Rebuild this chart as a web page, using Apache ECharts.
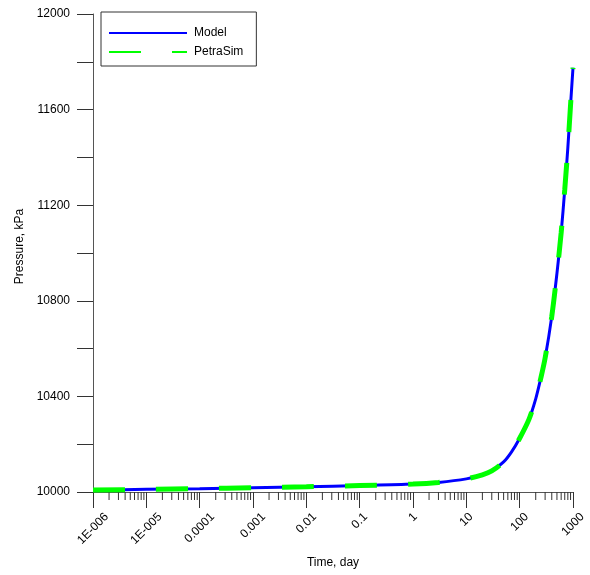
<!DOCTYPE html>
<html>
<head>
<meta charset="utf-8">
<script src="https://cdn.jsdelivr.net/npm/echarts@6/dist/echarts.min.js"></script>
<style>
  html, body { margin: 0; padding: 0; background: #fff; }
  #chart { width: 590px; height: 575px; }
</style>
</head>
<body>
<div id="chart"></div>
<script>
// Pressure build-up vs. time (log time axis)
const timeDays = [1e-6, 1e-5, 1e-4, 1e-3, 0.01, 0.1, 1, 3, 10, 20, 30, 50, 70, 100, 150, 200, 250, 300, 400, 500, 600, 700, 800, 900, 1000];
const modelPressure = [10008, 10011, 10014, 10018, 10022, 10027, 10033, 10040, 10055, 10072, 10088, 10126, 10167, 10225, 10305, 10390, 10478, 10560, 10735, 10915, 11085, 11265, 11440, 11620, 11775];
const petraSimPressure = [10008, 10011, 10014, 10018, 10022, 10027, 10033, 10040, 10055, 10072, 10088, 10126, 10167, 10225, 10305, 10390, 10478, 10560, 10735, 10915, 11085, 11265, 11440, 11620, 11775];

const xTickLabels = ['1E-006', '1E-005', '0.0001', '0.001', '0.01', '0.1', '1', '10', '100', '1000'];
const seriesNames = ['Model', 'PetraSim'];

const FONT = '"Liberation Sans", Arial, sans-serif';
const Y_MIN = 10000, Y_MAX = 12000;

// Minor log ticks: 2..9 within each decade
const minorTickTimes = [];
for (let k = -6; k < 3; k++) {
  for (let m = 2; m <= 9; m++) minorTickTimes.push(m * Math.pow(10, k));
}

// Measure label widths so rotated labels sit centred under their ticks
const ctx = document.createElement('canvas').getContext('2d');
ctx.font = '12px ' + FONT;
const rich = {};
xTickLabels.forEach((s, i) => {
  const w = ctx.measureText(s).width;
  rich['t' + i] = {
    fontSize: 12, fontFamily: FONT, color: '#000',
    padding: [w / 2, w / 2, 0, 0]
  };
});

const chart = echarts.init(document.getElementById('chart'), null, { renderer: 'canvas' });

chart.setOption({
  backgroundColor: '#fff',
  animation: false,
  grid: { left: 93, right: 17, top: 14, bottom: 83, containLabel: false },
  legend: {
    data: seriesNames,
    orient: 'vertical',
    left: 101, top: 12,
    padding: [15, 13, 8, 7],
    itemGap: 7,
    itemWidth: 78, itemHeight: 14,
    borderColor: '#333', borderWidth: 1,
    itemStyle: { opacity: 0 },
    textStyle: { fontSize: 12, fontFamily: FONT, color: '#000', padding: [0, 0, 0, 2] }
  },
  xAxis: {
    type: 'log', logBase: 10,
    min: 1e-6, max: 1000, interval: 1,
    name: 'Time, day', nameLocation: 'middle', nameGap: 65,
    nameTextStyle: { fontSize: 12, fontFamily: FONT, color: '#000' },
    axisLine: { show: true, lineStyle: { color: '#555', width: 1 } },
    axisTick: { show: true, inside: false, length: 16, lineStyle: { color: '#333', width: 1 } },
    minorTick: { show: false },
    splitLine: { show: false },
    axisLabel: {
      rotate: 45, align: 'center', verticalAlign: 'middle', margin: 23,
      fontSize: 12, fontFamily: FONT, color: '#000',
      formatter: v => {
        const i = Math.round(Math.log10(v)) + 6;
        return '{t' + i + '|' + xTickLabels[i] + '}';
      },
      rich: rich
    }
  },
  yAxis: {
    type: 'value',
    min: Y_MIN, max: Y_MAX, interval: 200,
    name: 'Pressure, kPa', nameLocation: 'middle', nameGap: 67,
    nameTextStyle: { fontSize: 12, fontFamily: FONT, color: '#000', padding: [0, 0, 0, 13] },
    axisLine: { show: true, lineStyle: { color: '#555', width: 1 } },
    axisTick: { show: true, inside: false, length: 16, lineStyle: { color: '#333', width: 1 } },
    splitLine: { show: false },
    axisLabel: {
      margin: 23, fontSize: 12, fontFamily: FONT, color: '#000',
      formatter: v => (v % 400 === 0 ? String(v) : '')
    }
  },
  series: [
    {
      type: 'custom',
      silent: true,
      clip: false,
      data: minorTickTimes.map(t => [t, Y_MIN]),
      renderItem: (params, api) => {
        const p = api.coord([api.value(0), api.value(1)]);
        return {
          type: 'line',
          shape: { x1: p[0], y1: p[1], x2: p[0], y2: p[1] + 8 },
          style: { stroke: '#333', lineWidth: 1 }
        };
      },
      z: 1
    },
    {
      name: seriesNames[0],
      type: 'line',
      data: timeDays.map((t, i) => [t, modelPressure[i]]),
      showSymbol: false, symbol: 'none',
      smooth: 0.3,
      lineStyle: { color: '#0000ff', width: 3 },
      itemStyle: { color: '#0000ff' },
      z: 2
    },
    {
      name: seriesNames[1],
      type: 'line',
      data: timeDays.map((t, i) => [t, petraSimPressure[i]]),
      showSymbol: false, symbol: 'none',
      smooth: 0.3,
      lineStyle: { color: '#00ff00', width: 5, type: [32, 31], cap: 'butt' },
      itemStyle: { color: '#00ff00' },
      z: 3
    }
  ]
});
</script>
</body>
</html>
